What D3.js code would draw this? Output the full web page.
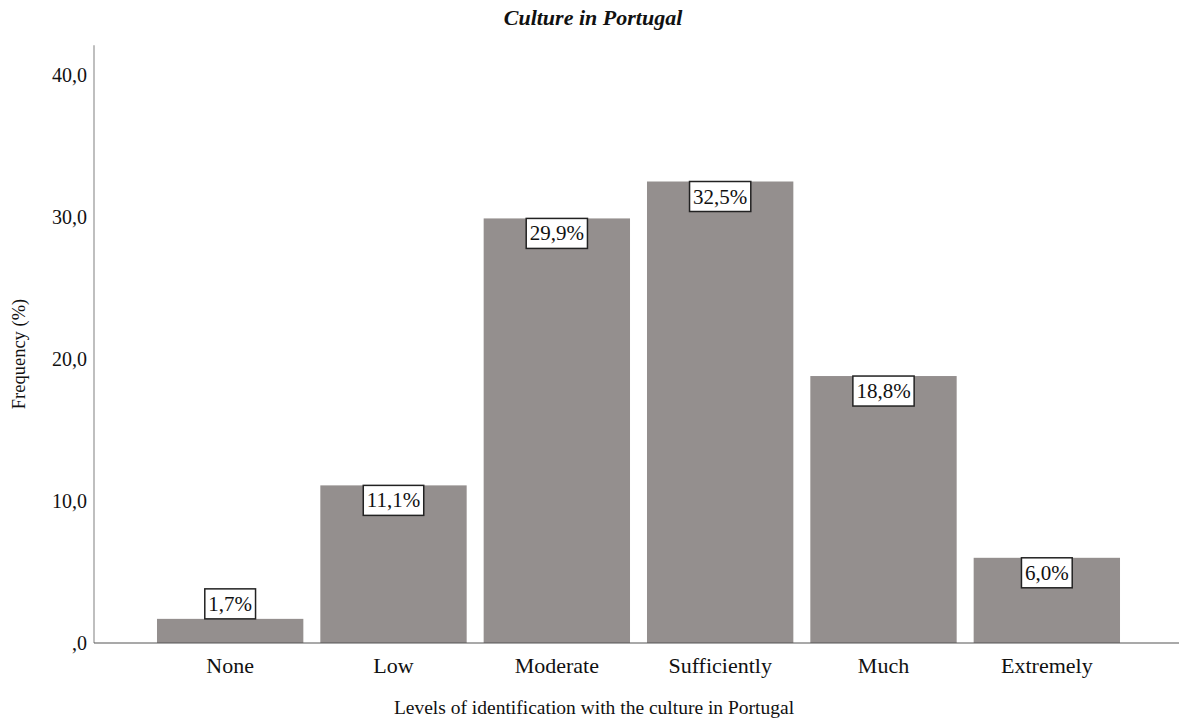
<!DOCTYPE html>
<html>
<meta charset="utf-8">
<head>
<style>
body { margin:0; padding:0; background:#fff; }
text { font-family: "Liberation Serif", "Times New Roman", serif; fill:#111; }
</style>
</head>
<body>
<svg id="chart"></svg>
<script src="https://cdnjs.cloudflare.com/ajax/libs/d3/7.8.5/d3.min.js"></script>
<script>

var categories = ["None", "Low", "Moderate", "Sufficiently", "Much", "Extremely"];
var values = [1.7, 11.1, 29.9, 32.5, 18.8, 6.0];
var yTicks = [0, 10, 20, 30, 40];

var width = 1179, height = 718;

var svg = d3.select("#chart")
  .attr("width", width)
  .attr("height", height);

var x = d3.scaleBand()
  .domain(categories)
  .range([148.5, 1128.5])
  .paddingInner(0.104)
  .paddingOuter(0.052);

var y = d3.scaleLinear()
  .domain([0, 40])
  .range([643, 75]);

function fmt(v) {
  return v === 0 ? ",0" : v.toFixed(1).replace(".", ",");
}

// title
svg.append("text")
  .attr("x", 593).attr("y", 25)
  .attr("text-anchor", "middle")
  .style("font-size", "22px")
  .style("font-weight", "bold")
  .style("font-style", "italic")
  .text("Culture in Portugal");

// y axis (labels only, no tick marks)
var yAxis = svg.append("g")
  .attr("transform", "translate(94,0)")
  .call(d3.axisLeft(y).tickValues(yTicks).tickSize(0).tickPadding(7).tickFormat(fmt));
yAxis.select(".domain").remove();
yAxis.selectAll("text")
  .style("font-family", "'Liberation Serif', serif")
  .style("font-size", "20px")
  .attr("fill", "#222");

svg.append("line")
  .attr("x1", 94).attr("x2", 94)
  .attr("y1", y(0)).attr("y2", y(42.1))
  .attr("stroke", "#aaa").attr("stroke-width", 1.5);

// bars
svg.append("g").selectAll("rect")
  .data(values)
  .enter().append("rect")
    .attr("x", function(d, i) { return x(categories[i]); })
    .attr("y", function(d) { return y(d); })
    .attr("width", x.bandwidth())
    .attr("height", function(d) { return y(0) - y(d); })
    .attr("fill", "#948f8e");

// baseline
svg.append("line")
  .attr("x1", 94).attr("x2", width)
  .attr("y1", y(0)).attr("y2", y(0))
  .attr("stroke", "#555").attr("stroke-width", 1.2);

// x axis labels
var xAxis = svg.append("g")
  .attr("transform", "translate(0," + y(0) + ")")
  .call(d3.axisBottom(x).tickSize(0).tickPadding(14));
xAxis.select(".domain").remove();
xAxis.selectAll("text")
  .style("font-family", "'Liberation Serif', serif")
  .style("font-size", "22px")
  .attr("fill", "#111");

// value labels in boxes
var boxH = 30;
var lbl = svg.append("g").selectAll("g")
  .data(values)
  .enter().append("g")
    .attr("transform", function(d, i) {
      var cx = x(categories[i]) + x.bandwidth() / 2;
      var top = (y(0) - y(d)) < boxH + 4 ? y(d) - boxH : y(d);
      return "translate(" + cx + "," + top + ")";
    });

lbl.append("text")
  .attr("text-anchor", "middle")
  .attr("y", 22)
  .style("font-size", "21px")
  .text(function(d) { return d.toFixed(1).replace(".", ",") + "%"; });

lbl.each(function() {
  var g = d3.select(this);
  var w = g.select("text").node().getComputedTextLength() + 7;
  g.insert("rect", "text")
    .attr("x", -w / 2).attr("y", 0)
    .attr("width", w).attr("height", boxH)
    .attr("fill", "#fff")
    .attr("stroke", "#222").attr("stroke-width", 1.5);
});

// axis titles
svg.append("text")
  .attr("x", 594).attr("y", 714)
  .attr("text-anchor", "middle")
  .style("font-size", "19.5px")
  .text("Levels of identification with the culture in Portugal");

svg.append("text")
  .attr("transform", "translate(25,354) rotate(-90)")
  .attr("text-anchor", "middle")
  .style("font-size", "18.5px")
  .text("Frequency (%)");

</script>
</body>
</html>
